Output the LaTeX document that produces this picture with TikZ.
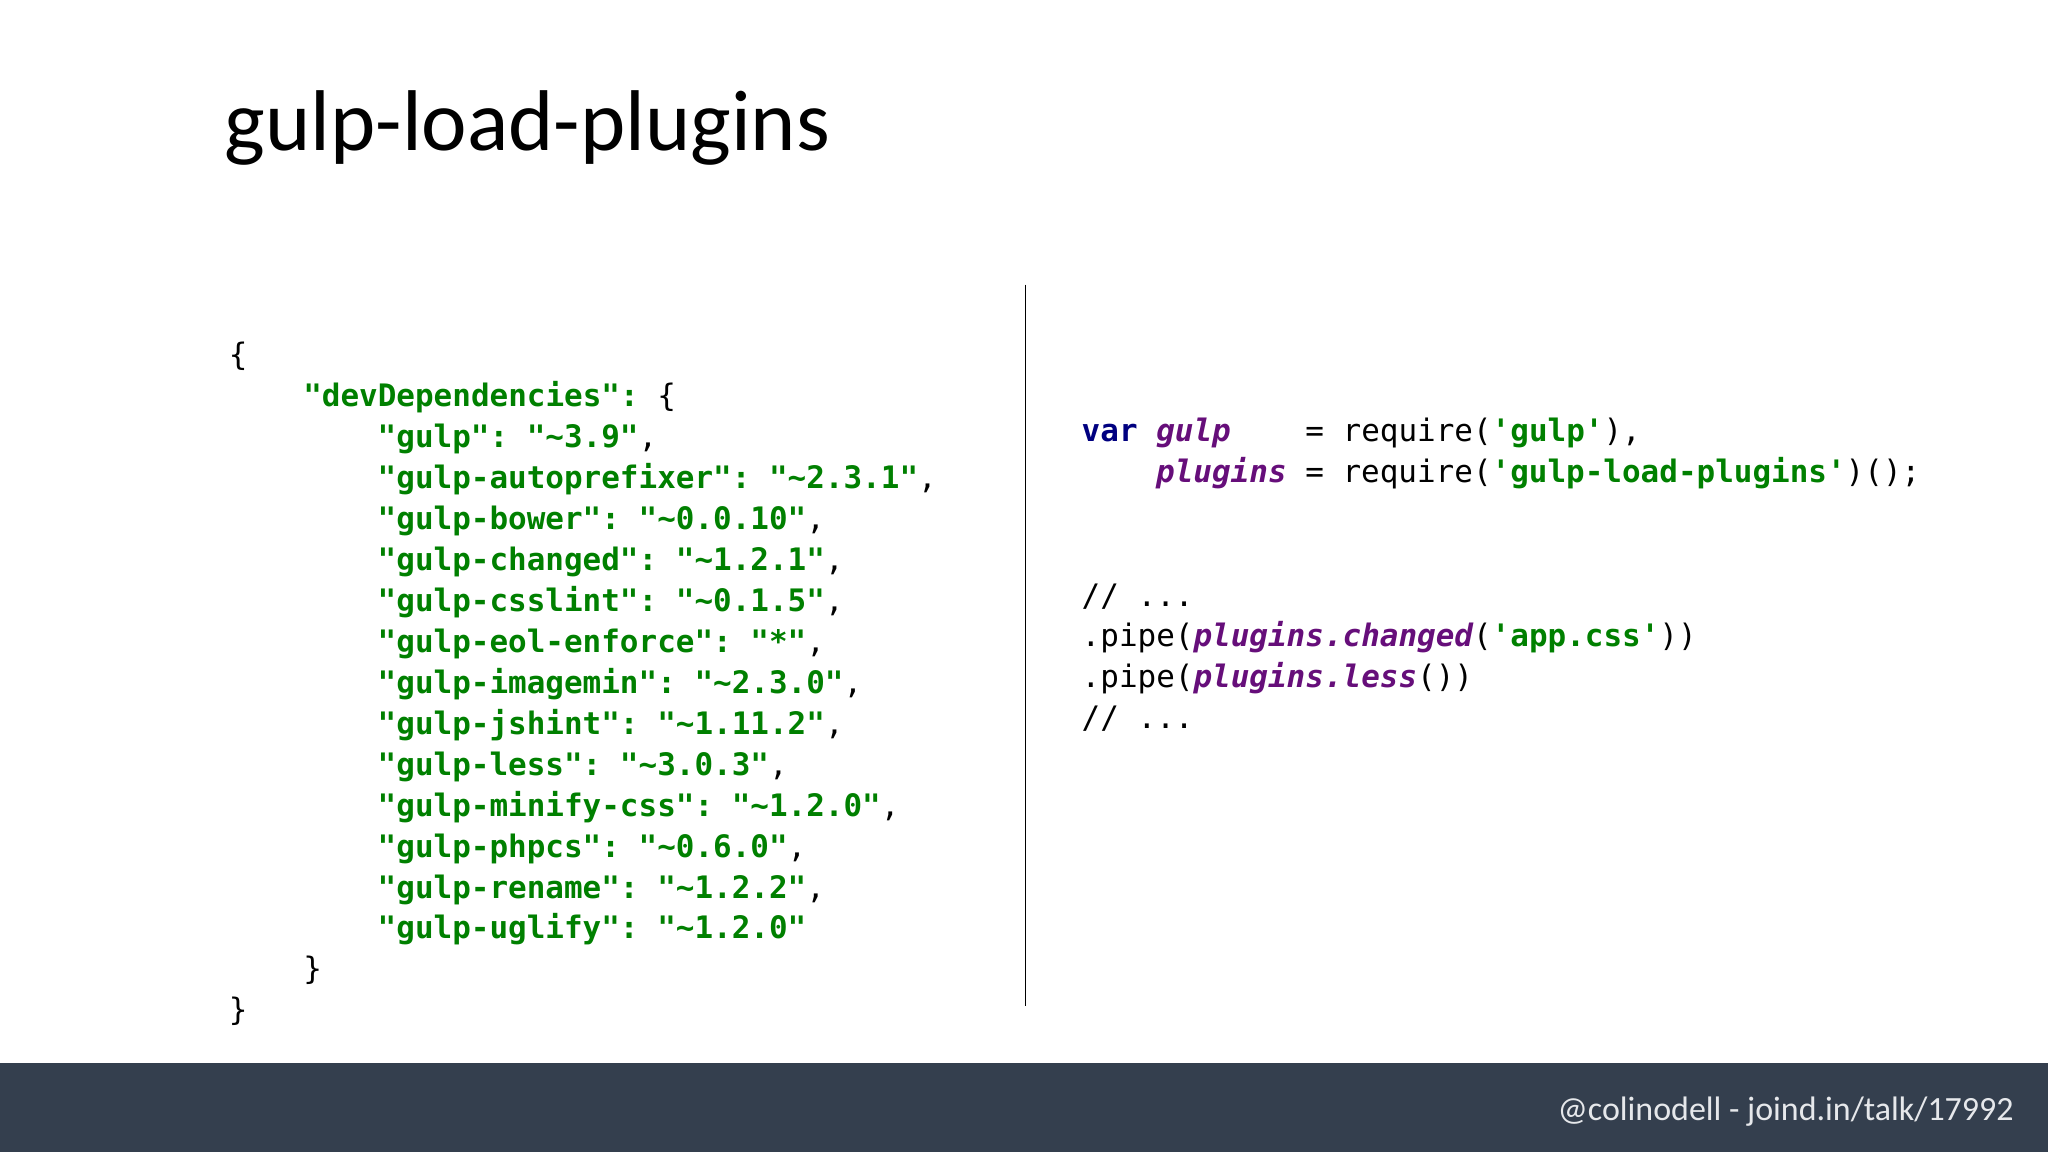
\documentclass[tikz,border=0pt]{standalone}
\usepackage{fontspec}
\setmainfont{Carlito}
\setmonofont{DejaVu Sans Mono}
\definecolor{jgreen}{HTML}{008000}
\definecolor{jnavy}{HTML}{000080}
\definecolor{jpurple}{HTML}{660E7A}
\definecolor{band}{HTML}{343F4E}
\definecolor{foot}{HTML}{E6E8EB}
\newcommand{\tl}{\textasciitilde}
\begin{document}
\begin{tikzpicture}[x=1pt,y=-1pt,
  code/.style={anchor=base west,inner sep=0pt,font=\fontsize{23.7}{31}\selectfont\ttfamily},
  js/.style={code,text=jgreen,font=\fontsize{23.7}{31}\selectfont\ttfamily\bfseries}]
\useasboundingbox (0,0) rectangle (1568,882);
\fill[white] (0,0) rectangle (1568,882);
\fill[band] (0,814) rectangle (1568,882);
\node[anchor=base west,inner sep=0pt,font=\fontsize{66}{70}\selectfont] (title) at (172,115) {gulp-load-plugins};
\node[anchor=base east,inner sep=0pt,text=foot,font=\fontsize{26}{30}\selectfont] (footer) at (1542,858) {@colinodell - joind.in/talk/17992};
\coordinate (lt) at (785,218); \coordinate (lb) at (785,770);
\draw[line width=1.2pt] (lt) -- (lb);
% left JSON
\node[code] (l0) at (175,280.0) {\{};
\node[js] (l1) at (232,311.4) {"devDependencies": \textcolor{black}{\mdseries\{}};
\node[js] (l2) at (289,342.7) {"gulp": "\tl3.9"\textcolor{black}{\mdseries,}};
\node[js] (l3) at (289,374.1) {"gulp-autoprefixer": "\tl2.3.1"\textcolor{black}{\mdseries,}};
\node[js] (l4) at (289,405.4) {"gulp-bower": "\tl0.0.10"\textcolor{black}{\mdseries,}};
\node[js] (l5) at (289,436.8) {"gulp-changed": "\tl1.2.1"\textcolor{black}{\mdseries,}};
\node[js] (l6) at (289,468.1) {"gulp-csslint": "\tl0.1.5"\textcolor{black}{\mdseries,}};
\node[js] (l7) at (289,499.5) {"gulp-eol-enforce": "*"\textcolor{black}{\mdseries,}};
\node[js] (l8) at (289,530.8) {"gulp-imagemin": "\tl2.3.0"\textcolor{black}{\mdseries,}};
\node[js] (l9) at (289,562.2) {"gulp-jshint": "\tl1.11.2"\textcolor{black}{\mdseries,}};
\node[js] (l10) at (289,593.5) {"gulp-less": "\tl3.0.3"\textcolor{black}{\mdseries,}};
\node[js] (l11) at (289,624.9) {"gulp-minify-css": "\tl1.2.0"\textcolor{black}{\mdseries,}};
\node[js] (l12) at (289,656.2) {"gulp-phpcs": "\tl0.6.0"\textcolor{black}{\mdseries,}};
\node[js] (l13) at (289,687.6) {"gulp-rename": "\tl1.2.2"\textcolor{black}{\mdseries,}};
\node[js] (l14) at (289,718.9) {"gulp-uglify": "\tl1.2.0"};
\node[code] (l15) at (232,750.3) {\}};
\node[code] (l16) at (175,781.6) {\}};
% right JS
\node[code] (r1) at (828,338) {\textcolor{jnavy}{\bfseries var} \textcolor{jpurple}{\bfseries\itshape gulp}\ \ \ \ = require(\textcolor{jgreen}{\bfseries 'gulp'}),};
\node[code] (r2) at (885,369.3) {\textcolor{jpurple}{\bfseries\itshape plugins} = require(\textcolor{jgreen}{\bfseries 'gulp-load-plugins'})();};
\node[code] (r3) at (828,464) {// ...};
\node[code] (r4) at (828,495.3) {.pipe(\textcolor{jpurple}{\bfseries\itshape plugins.changed}(\textcolor{jgreen}{\bfseries 'app.css'}))};
\node[code] (r5) at (828,526.6) {.pipe(\textcolor{jpurple}{\bfseries\itshape plugins.less}())};
\node[code] (r6) at (828,557.9) {// ...};
\end{tikzpicture}
\end{document}
